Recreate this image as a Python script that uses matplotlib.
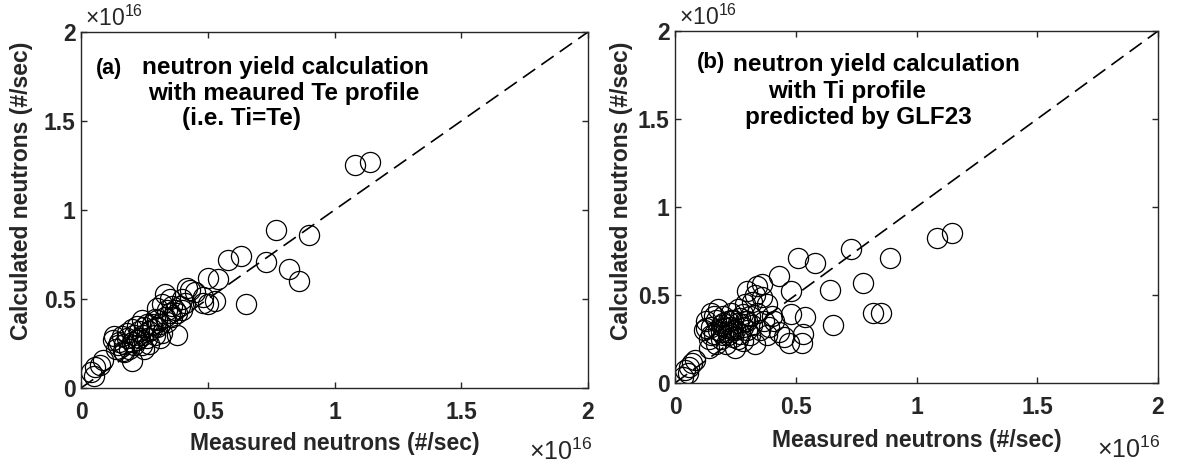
import matplotlib
matplotlib.use("Agg")
import matplotlib.pyplot as plt

plt.rcParams["font.family"] = ["Liberation Sans", "DejaVu Sans"]
plt.rcParams["mathtext.fontset"] = "custom"
plt.rcParams["mathtext.rm"] = "Liberation Sans"

# values in units of 1e16 neutrons/sec
meas_a = [
    0.04, 0.055, 0.075, 0.087, 0.05,
    0.13, 0.125, 0.145, 0.165, 0.14, 0.15, 0.17, 0.18, 0.2, 0.19,
    0.2, 0.21, 0.22, 0.23, 0.24, 0.245, 0.25, 0.26, 0.27, 0.28,
    0.29, 0.3, 0.3, 0.31, 0.32, 0.33, 0.34, 0.35, 0.36, 0.37,
    0.38, 0.38, 0.39, 0.4, 0.41, 0.33, 0.42, 0.45, 0.48, 0.5,
    0.53, 0.54, 0.5, 0.58, 0.63, 0.65, 0.73, 0.77, 0.82, 0.86,
    0.9, 1.08, 1.14, 0.48, 0.43, 0.2, 0.22, 0.18, 0.23, 0.26,
    0.28, 0.24, 0.27, 0.16, 0.3, 0.32, 0.35, 0.36, 0.4, 0.25,
    0.21, 0.29, 0.34, 0.17, 0.31,
]
calc_a = [
    0.09, 0.12, 0.13, 0.157, 0.07,
    0.29, 0.27, 0.24, 0.21, 0.22, 0.26, 0.25, 0.28, 0.15, 0.22,
    0.26, 0.3, 0.27, 0.32, 0.24, 0.3, 0.34, 0.28, 0.32, 0.36,
    0.3, 0.34, 0.38, 0.36, 0.31, 0.4, 0.37, 0.42, 0.4, 0.44,
    0.3, 0.42, 0.46, 0.44, 0.48, 0.53, 0.56, 0.54, 0.51, 0.47,
    0.49, 0.61, 0.62, 0.72, 0.74, 0.47, 0.71, 0.89, 0.67, 0.6,
    0.86, 1.25, 1.27, 0.48, 0.55, 0.33, 0.35, 0.31, 0.28, 0.36,
    0.33, 0.38, 0.25, 0.29, 0.45, 0.47, 0.5, 0.46, 0.5, 0.22,
    0.24, 0.39, 0.44, 0.2, 0.28,
]

meas_b = [
    0.033, 0.041, 0.054, 0.07, 0.083, 0.06,
    0.12, 0.13, 0.14, 0.15, 0.15, 0.16, 0.17, 0.18, 0.18, 0.19,
    0.2, 0.2, 0.21, 0.21, 0.22, 0.22, 0.23, 0.23, 0.24, 0.24,
    0.25, 0.25, 0.26, 0.26, 0.27, 0.27, 0.28, 0.28, 0.29, 0.29,
    0.3, 0.3, 0.31, 0.31, 0.32, 0.32, 0.33, 0.33, 0.34, 0.34,
    0.35, 0.36, 0.36, 0.37, 0.38, 0.38, 0.39, 0.4, 0.41, 0.43,
    0.43, 0.45, 0.47, 0.48, 0.48, 0.53, 0.525, 0.54, 0.51, 0.58,
    0.64, 0.655, 0.73, 0.78, 0.82, 0.855, 0.89, 1.085, 1.145,
    0.14, 0.17, 0.19, 0.2, 0.16, 0.24, 0.26, 0.28, 0.22, 0.3,
    0.19, 0.23, 0.15, 0.13,
]
calc_b = [
    0.034, 0.074, 0.057, 0.114, 0.13, 0.09,
    0.3, 0.35, 0.25, 0.32, 0.4, 0.28, 0.36, 0.3, 0.42, 0.33,
    0.27, 0.38, 0.31, 0.22, 0.35, 0.29, 0.4, 0.32, 0.26, 0.36,
    0.3, 0.2, 0.34, 0.42, 0.28, 0.37, 0.32, 0.24, 0.45, 0.35,
    0.3, 0.52, 0.38, 0.27, 0.46, 0.33, 0.5, 0.22, 0.4, 0.55,
    0.3, 0.49, 0.56, 0.35, 0.45, 0.27, 0.32, 0.38, 0.35, 0.29,
    0.61, 0.26, 0.23, 0.52, 0.39, 0.28, 0.23, 0.375, 0.71, 0.68,
    0.53, 0.33, 0.76, 0.57, 0.4, 0.4, 0.71, 0.825, 0.85,
    0.2, 0.22, 0.25, 0.34, 0.38, 0.3, 0.25, 0.39, 0.27, 0.35,
    0.29, 0.36, 0.27, 0.31,
]

ticks = [0, 0.5, 1, 1.5, 2]
tick_labels = ["0", "0.5", "1", "1.5", "2"]

AX_COLOR = "#262626"
TICK_SIZE = 16.5


def style_axes(ax):
    ax.set_xlim(0, 2)
    ax.set_ylim(0, 2)
    ax.set_xticks(ticks)
    ax.set_yticks(ticks)
    ax.set_xticklabels(tick_labels)
    ax.set_yticklabels(tick_labels)
    for s in ax.spines.values():
        s.set_color(AX_COLOR)
        s.set_linewidth(1.0)
    ax.tick_params(direction="in", length=4, width=1.0, color=AX_COLOR,
                   top=True, right=True, labelsize=TICK_SIZE,
                   labelcolor=AX_COLOR)
    ax.tick_params(axis="x", pad=9)
    ax.tick_params(axis="y", pad=4)
    for lab in ax.get_xticklabels() + ax.get_yticklabels():
        lab.set_fontweight("bold")


def draw_panel(ax, x, y):
    ax.plot([0, 2], [0, 2], color="black", lw=1.2, dashes=(9, 4.5))
    ax.plot(x, y, "o", ms=14.5, mfc="none", mec="black", mew=0.9)
    style_axes(ax)
    ax.set_xlabel("Measured neutrons (#/sec)", fontsize=TICK_SIZE,
                  fontweight="bold", color=AX_COLOR)
    ax.set_ylabel("Calculated neutrons (#/sec)", fontsize=TICK_SIZE,
                  fontweight="bold", color=AX_COLOR)
    ax.text(0.008, 1.003, "\u00d710$^{16}$", transform=ax.transAxes,
            fontsize=16.5, color=AX_COLOR, ha="left", va="bottom")


fig = plt.figure(figsize=(11.77, 4.65), dpi=100)
ax_a = fig.add_axes([81 / 1177, 77 / 465, 507 / 1177, 356 / 465])
ax_b = fig.add_axes([675 / 1177, 82 / 465, 483 / 1177, 352 / 465])

draw_panel(ax_a, meas_a, calc_a)
draw_panel(ax_b, meas_b, calc_b)

ax_a.xaxis.set_label_coords(0.5, -0.123)
ax_a.yaxis.set_label_coords(-0.095, 0.553)
ax_b.xaxis.set_label_coords(0.5, -0.13)
ax_b.yaxis.set_label_coords(-0.087, 0.545)

ax_a.text(1.008, -0.18, "\u00d710$^{16}$", transform=ax_a.transAxes,
          fontsize=18, color=AX_COLOR, ha="right", va="center")
ax_b.text(1.005, -0.19, "\u00d710$^{16}$", transform=ax_b.transAxes,
          fontsize=18, color=AX_COLOR, ha="right", va="center")

# panel (a) annotation
ax_a.text(0.06, 1.765, "(a)", fontsize=15.5, fontweight="bold", va="baseline")
ax_a.text(0.24, 1.765, "neutron yield calculation", fontsize=17.5,
          fontweight="bold", va="baseline")
ax_a.text(0.265, 1.62, "with meaured Te profile", fontsize=17.5,
          fontweight="bold", va="baseline")
ax_a.text(0.40, 1.475, "(i.e. Ti=Te)", fontsize=17.5,
          fontweight="bold", va="baseline")

# panel (b) annotation
ax_b.text(0.09, 1.79, "(b)", fontsize=16, fontweight="bold", va="baseline")
ax_b.text(0.24, 1.77, "neutron yield calculation", fontsize=17.5,
          fontweight="bold", va="baseline")
ax_b.text(0.385, 1.62, "with Ti profile", fontsize=17.5,
          fontweight="bold", va="baseline")
ax_b.text(0.29, 1.47, "predicted by GLF23", fontsize=17.5,
          fontweight="bold", va="baseline")

fig.savefig("out.png", dpi=100, facecolor="white")
